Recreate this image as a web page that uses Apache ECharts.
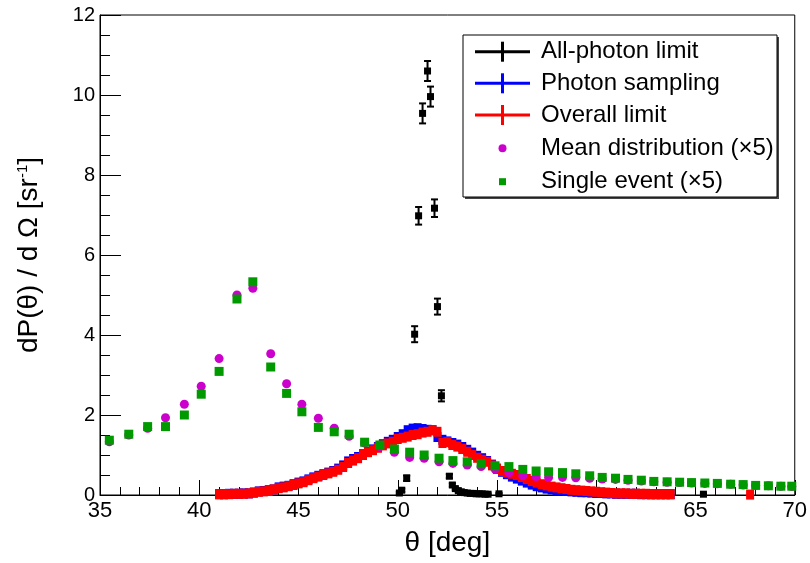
<!DOCTYPE html>
<html>
<head>
<meta charset="utf-8">
<script src="https://cdn.jsdelivr.net/npm/echarts@6/dist/echarts.min.js"></script>
<style>
html,body{margin:0;padding:0;background:#fff;}
#c{width:810px;height:563px;}
</style>
</head>
<body>
<div id="c"></div>
<script>
// ---- data ----
const allPhotonTheta = [50.08, 50.2, 50.45, 50.85, 51.05, 51.25, 51.5, 51.65, 51.85, 52.0, 52.2, 52.6, 52.75, 52.9, 53.05, 53.2, 53.35, 53.5, 53.65, 53.8, 53.95, 54.1, 54.25, 54.4, 54.55, 55.1, 65.4];
const allPhotonVal   = [0.05, 0.12, 0.42, 4.02, 6.98, 9.54, 10.6, 9.96, 7.17, 4.71, 2.48, 0.47, 0.25, 0.16, 0.11, 0.08, 0.06, 0.05, 0.04, 0.04, 0.03, 0.03, 0.03, 0.02, 0.02, 0.03, 0.02];
const allPhotonErr   = [0.03, 0.04, 0.07, 0.2, 0.22, 0.25, 0.25, 0.25, 0.22, 0.2, 0.14, 0.05, 0.04, 0.03, 0.03, 0.02, 0.02, 0.02, 0.02, 0.02, 0.02, 0.02, 0.02, 0.02, 0.02, 0.02, 0.02];

const bandTheta = [41.0, 41.25, 41.5, 41.75, 42.0, 42.25, 42.5, 42.75, 43.0, 43.25, 43.5, 43.75, 44.0, 44.25, 44.5, 44.75,
  45.0, 45.25, 45.5, 45.75, 46.0, 46.25, 46.5, 46.75, 47.0, 47.25, 47.5, 47.75, 48.0, 48.25, 48.5, 48.75,
  49.0, 49.25, 49.5, 49.75, 50.0, 50.25, 50.5, 50.75, 51.0, 51.25, 51.5, 51.75, 52.0, 52.25, 52.5, 52.75,
  53.0, 53.25, 53.5, 53.75, 54.0, 54.25, 54.5, 54.75, 55.0, 55.25, 55.5, 55.75, 56.0, 56.25, 56.5, 56.75,
  57.0, 57.25, 57.5, 57.75, 58.0, 58.25, 58.5, 58.75, 59.0, 59.25, 59.5, 59.75, 60.0, 60.25, 60.5, 60.75,
  61.0, 61.25, 61.5, 61.75, 62.0, 62.25, 62.5, 62.75, 63.0, 63.25, 63.5, 63.75];
const photonSampling = [0.02, 0.02, 0.03, 0.03, 0.03, 0.04, 0.04, 0.06, 0.09, 0.10, 0.12, 0.14, 0.19, 0.21, 0.23, 0.27,
  0.31, 0.34, 0.39, 0.44, 0.48, 0.52, 0.56, 0.60, 0.66, 0.74, 0.84, 0.90, 0.95, 1.02, 1.08, 1.14,
  1.20, 1.27, 1.33, 1.38, 1.45, 1.52, 1.62, 1.66, 1.67, 1.65, 1.63, 1.62, 1.45, 1.38, 1.34, 1.30,
  1.26, 1.20, 1.13, 1.06, 0.98, 0.92, 0.85, 0.76, 0.66, 0.58, 0.52, 0.46, 0.41, 0.36, 0.31, 0.26,
  0.22, 0.19, 0.16, 0.14, 0.12, 0.11, 0.10, 0.09, 0.08, 0.07, 0.07, 0.06, 0.05, 0.05, 0.04, 0.04,
  0.03, 0.03, 0.03, 0.03, 0.03, 0.02, 0.02, 0.02, 0.02, 0.02, 0.02, 0.02];
const overallLimit = [0.02, 0.02, 0.02, 0.03, 0.03, 0.03, 0.04, 0.06, 0.08, 0.09, 0.10, 0.14, 0.17, 0.19, 0.22, 0.25,
  0.29, 0.32, 0.37, 0.42, 0.46, 0.50, 0.54, 0.58, 0.63, 0.70, 0.80, 0.86, 0.92, 1.00, 1.07, 1.12,
  1.18, 1.24, 1.29, 1.33, 1.40, 1.43, 1.46, 1.50, 1.52, 1.56, 1.58, 1.62, 1.58, 1.30, 1.32, 1.25,
  1.21, 1.15, 1.08, 1.00, 0.93, 0.88, 0.83, 0.74, 0.65, 0.60, 0.56, 0.53, 0.50, 0.45, 0.40, 0.35,
  0.31, 0.27, 0.24, 0.21, 0.19, 0.17, 0.15, 0.13, 0.12, 0.11, 0.10, 0.09, 0.08, 0.07, 0.06, 0.05,
  0.04, 0.04, 0.04, 0.03, 0.03, 0.03, 0.03, 0.02, 0.02, 0.02, 0.02, 0.02];
const overallExtraTheta = [67.75];
const overallExtraVal = [0.01];

const binTheta = [35.47, 36.45, 37.4, 38.3, 39.25, 40.1, 41.0, 41.9, 42.7, 43.6, 44.4, 45.17, 46.0, 46.8, 47.55, 48.33,
  49.1, 49.83, 50.6, 51.33, 52.08, 52.78, 53.5, 54.2, 54.9, 55.6, 56.3, 56.97, 57.6, 58.3, 58.97, 59.67,
  60.3, 60.97, 61.6, 62.27, 62.9, 63.57, 64.2, 64.8, 65.47, 66.1, 66.77, 67.4, 68.03, 68.67, 69.3, 69.85];
const meanDist = [1.33, 1.5, 1.67, 1.93, 2.27, 2.72, 3.41, 5.0, 5.17, 3.53, 2.78, 2.27, 1.92, 1.67, 1.47, 1.3,
  1.21, 1.07, 0.94, 0.92, 0.83, 0.79, 0.75, 0.71, 0.65, 0.56, 0.48, 0.46, 0.44, 0.44, 0.43, 0.42,
  0.40, 0.39, 0.37, 0.35, 0.33, 0.32, 0.31, 0.30, 0.29, 0.28, 0.27, 0.25, 0.24, 0.23, 0.22, 0.21];
const singleEvent = [1.37, 1.52, 1.71, 1.71, 2.0, 2.52, 3.09, 4.9, 5.33, 3.2, 2.54, 2.08, 1.69, 1.58, 1.52, 1.32,
  1.25, 1.15, 1.07, 1.0, 0.92, 0.86, 0.83, 0.78, 0.73, 0.71, 0.64, 0.6, 0.58, 0.56, 0.53, 0.48,
  0.44, 0.42, 0.39, 0.37, 0.34, 0.33, 0.32, 0.31, 0.30, 0.29, 0.27, 0.26, 0.24, 0.23, 0.22, 0.22];

const xTicks = {min: 35, max: 70, step: 5};
const yTicks = {min: 0, max: 12, step: 2};

const legendNames = ['All-photon limit', 'Photon sampling', 'Overall limit', 'Mean distribution (\u00d75)', 'Single event (\u00d75)'];

// ---- chart ----
const FONT = 'Liberation Sans, Arial, Helvetica, sans-serif';
const zip = (a, b) => a.map((v, i) => [v, b[i]]);

const chart = echarts.init(document.getElementById('c'), null, {renderer: 'canvas'});

const errData = allPhotonTheta.map((t, i) => [t, allPhotonVal[i], allPhotonErr[i]]);

function errRender(params, api) {
  const x = api.value(0), y = api.value(1), e = api.value(2);
  const top = api.coord([x, y + e]);
  const bot = api.coord([x, Math.max(0, y - e)]);
  const hw = 3.5;
  const st = {stroke: '#000', lineWidth: 2};
  return {
    type: 'group',
    children: [
      {type: 'line', shape: {x1: top[0], y1: top[1], x2: bot[0], y2: bot[1]}, style: st},
      {type: 'line', shape: {x1: top[0] - hw, y1: top[1], x2: top[0] + hw, y2: top[1]}, style: st},
      {type: 'line', shape: {x1: bot[0] - hw, y1: bot[1], x2: bot[0] + hw, y2: bot[1]}, style: st}
    ]
  };
}

// legend layout (pixels)
const LX = 463, LY = 35, LW = 314, LH = 162;
const rowY = [51.7, 83.3, 115, 148.3, 181.7];
const legendGraphics = [
  {type: 'rect', shape: {x: LX + 2, y: LY + 2, width: LW, height: LH}, style: {fill: '#444'}, z: 100},
  {type: 'rect', shape: {x: LX, y: LY, width: LW, height: LH}, style: {fill: '#fff', stroke: '#000', lineWidth: 1}, z: 101}
];
const symColors = ['#000000', '#0000ff', '#ff0000'];
for (let i = 0; i < 3; i++) {
  legendGraphics.push({type: 'line', shape: {x1: 475, y1: rowY[i], x2: 530, y2: rowY[i]}, style: {stroke: symColors[i], lineWidth: 3}, z: 102});
  legendGraphics.push({type: 'line', shape: {x1: 502.5, y1: rowY[i] - 10, x2: 502.5, y2: rowY[i] + 10}, style: {stroke: symColors[i], lineWidth: 3}, z: 102});
}
legendGraphics.push({type: 'circle', shape: {cx: 502.5, cy: rowY[3], r: 4}, style: {fill: '#cc00cc'}, z: 102});
legendGraphics.push({type: 'rect', shape: {x: 499, y: rowY[4] - 3.5, width: 7, height: 7}, style: {fill: '#009900'}, z: 102});
for (let i = 0; i < 5; i++) {
  legendGraphics.push({type: 'text', x: 541, y: rowY[i], style: {text: legendNames[i], font: '24px ' + FONT, fill: '#000', verticalAlign: 'middle', align: 'left'}, z: 103});
}

const option = {
  animation: false,
  backgroundColor: '#fff',
  grid: {left: 100, right: 10, top: 15, bottom: 68, show: true, borderColor: '#000', borderWidth: 1, backgroundColor: 'rgba(0,0,0,0)'},
  xAxis: {
    type: 'value', min: xTicks.min, max: xTicks.max, interval: xTicks.step,
    axisLine: {onZero: false, lineStyle: {color: '#000', width: 1}},
    axisTick: {inside: true, length: 15, lineStyle: {color: '#000', width: 1}},
    minorTick: {show: true, splitNumber: 5, length: 8, lineStyle: {color: '#000', width: 1}},
    splitLine: {show: false},
    axisLabel: {color: '#000', fontSize: 22, fontFamily: FONT, margin: 5},
    name: '\u03b8 [deg]', nameLocation: 'middle', nameGap: 34,
    nameTextStyle: {color: '#000', fontSize: 28, fontFamily: FONT}
  },
  yAxis: {
    type: 'value', min: yTicks.min, max: yTicks.max, interval: yTicks.step,
    axisLine: {onZero: false, lineStyle: {color: '#000', width: 1}},
    axisTick: {inside: true, length: 21, lineStyle: {color: '#000', width: 1}},
    minorTick: {show: true, splitNumber: 4, length: 10, lineStyle: {color: '#000', width: 1}},
    splitLine: {show: false},
    axisLabel: {color: '#000', fontSize: 20, fontFamily: FONT, margin: 5},
    name: 'dP(\u03b8) / d \u03a9 [sr{sup|-1}]', nameLocation: 'middle', nameGap: 56, nameRotate: 90,
    nameTextStyle: {color: '#000', fontSize: 28, fontFamily: FONT,
      rich: {sup: {fontSize: 15, fontFamily: FONT, color: '#000', verticalAlign: 'top', padding: [0, 0, 14, 0]}}}
  },
  graphic: legendGraphics,
  series: [
    {name: legendNames[1], type: 'scatter', symbol: 'rect', symbolSize: [8, 10], itemStyle: {color: '#0000ff', opacity: 1},
     data: zip(bandTheta, photonSampling), z: 2},
    {name: legendNames[2], type: 'scatter', symbol: 'rect', symbolSize: [8, 10], itemStyle: {color: '#ff0000', opacity: 1},
     data: zip(bandTheta, overallLimit).concat(zip(overallExtraTheta, overallExtraVal)), z: 3},
    {name: legendNames[3], type: 'scatter', symbol: 'circle', symbolSize: 9, itemStyle: {color: '#cc00cc', opacity: 1},
     data: zip(binTheta, meanDist), z: 4},
    {name: legendNames[4], type: 'scatter', symbol: 'rect', symbolSize: 9, itemStyle: {color: '#009900', opacity: 1},
     data: zip(binTheta, singleEvent), z: 5},
    {name: legendNames[0] + ' err', type: 'custom', renderItem: errRender, data: errData, clip: true, z: 6},
    {name: legendNames[0], type: 'scatter', symbol: 'rect', symbolSize: 7, itemStyle: {color: '#000', opacity: 1},
     data: zip(allPhotonTheta, allPhotonVal), z: 7}
  ]
};
chart.setOption(option);
</script>
</body>
</html>
